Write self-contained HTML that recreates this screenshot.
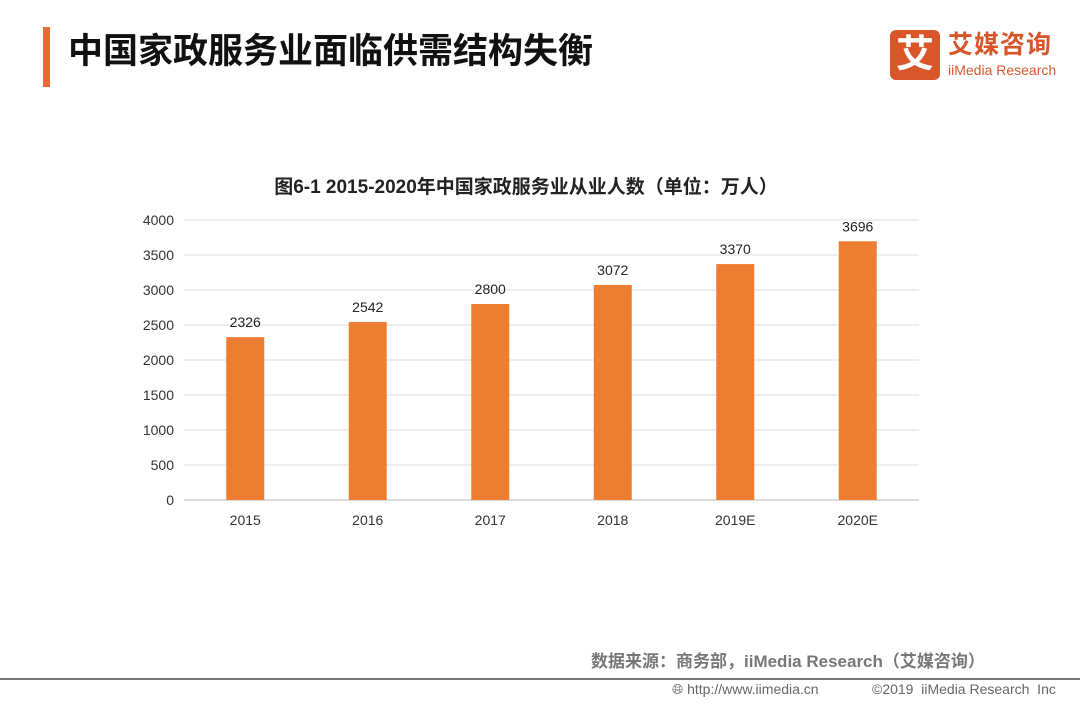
<!DOCTYPE html>
<html><head><meta charset="utf-8">
<style>
body{margin:0;background:#fff;}
#root{position:relative;width:1080px;height:703px;overflow:hidden;background:#fff;font-family:"Liberation Sans","Noto Sans CJK SC",sans-serif;}
.abs{position:absolute;}
</style></head><body>
<div id="root">
  <div class="abs" style="left:43px;top:27px;width:7px;height:60px;background:#e8683a;"></div>
  <div class="abs" style="left:68px;top:29px;font-size:35px;font-weight:bold;color:#111;line-height:46px;">中国家政服务业面临供需结构失衡</div>
  <div class="abs" style="left:890px;top:30px;width:180px;height:52px;">
    <div class="abs" style="left:0;top:0;width:50px;height:50px;background:#d9562b;border-radius:6px;color:#fff;font-size:38px;line-height:50px;text-align:center;font-weight:bold;">艾</div>
    <div class="abs" style="left:58px;top:0px;font-size:25px;color:#d9562b;font-weight:bold;line-height:30px;letter-spacing:1px;">艾媒咨询</div>
    <div class="abs" style="left:58px;top:32px;font-size:14px;color:#d9562b;line-height:16px;">iiMedia Research</div>
  </div>
  <svg class="abs" style="left:0;top:0" width="1080" height="703" id="chart">
    <text x="526" y="193" text-anchor="middle" font-size="19" font-weight="bold" fill="#222" font-family="Liberation Sans, Noto Sans CJK SC, sans-serif">图6-1 2015-2020年中国家政服务业从业人数（单位：万人）</text>
  </svg>
  <div class="abs" style="left:591px;top:647px;font-size:17px;color:#777;font-weight:bold;">数据来源：商务部，iiMedia Research（艾媒咨询）</div>
  <div class="abs" style="left:0;top:678px;width:1080px;height:2px;background:#777;"></div>
  <div class="abs" style="left:672px;top:681px;font-size:14px;color:#666;">&#x1F310;&#xFE0E; http://www.iimedia.cn</div>
  <div class="abs" style="left:872px;top:681px;font-size:14px;color:#666;">©2019 &nbsp;iiMedia Research &nbsp;Inc</div>
</div>
<script>
const categories=["2015","2016","2017","2018","2019E","2020E"];
const values=[2326,2542,2800,3072,3370,3696];
const yTicks=[0,500,1000,1500,2000,2500,3000,3500,4000];
const NS="http://www.w3.org/2000/svg";
const svg=document.getElementById('chart');
const x0=184,x1=919,y0=500,y1=220,yMax=4000;
const band=(x1-x0)/categories.length;
function yScale(v){return y0-(v/yMax)*(y0-y1);}
function xCenter(i){return x0+band*(i+0.5);}
function mk(tag,attrs){const e=document.createElementNS(NS,tag);for(const k in attrs)e.setAttribute(k,attrs[k]);svg.appendChild(e);return e;}
yTicks.forEach(t=>{
  const y=yScale(t);
  const l=mk('line',{x1:x0,x2:x1,y1:y,y2:y,stroke:t===0?'#bbb':'#ddd','stroke-width':1});
  
  
  const tx=mk('text',{x:174,y:y+5,'text-anchor':'end','font-size':14,fill:'#333','font-family':'Liberation Sans, sans-serif'});
  tx.textContent=t;
  
  
});
categories.forEach((c,i)=>{
  const cx=xCenter(i),v=values[i],y=yScale(v);
  const r=mk('rect',{x:cx-19,y:y,width:38,height:y0-y,fill:'#ed7d31'});
  
  
  const vl=mk('text',{x:cx,y:y-10,'text-anchor':'middle','font-size':14,fill:'#222','font-family':'Liberation Sans, sans-serif'});
  vl.textContent=v;
  
  
  const xl=mk('text',{x:cx,y:525,'text-anchor':'middle','font-size':14,fill:'#333','font-family':'Liberation Sans, sans-serif'});
  xl.textContent=c;
  
  
});
</script>
</body></html>
